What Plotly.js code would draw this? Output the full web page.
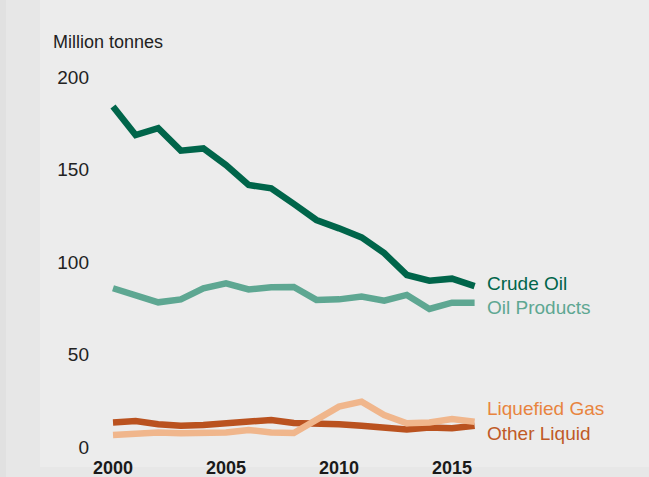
<!DOCTYPE html>
<html>
<head>
<meta charset="utf-8">
<script src="https://cdn.plot.ly/plotly-3.0.1.min.js"></script>
<style>html,body{margin:0;padding:0;background:#ececec;}#chart{width:649px;height:477px;}</style>
</head>
<body>
<div id="chart"></div>
<script>
const years = [2000,2001,2002,2003,2004,2005,2006,2007,2008,2009,2010,2011,2012,2013,2014,2015,2016];
const crudeOil = [184,168.6,172.3,160.2,161.4,152.4,141.6,139.8,131.4,122.7,118.2,113.3,104.8,93,89.9,91,87];
const oilProducts = [85.8,82.2,78.2,79.8,85.8,88.5,85.2,86.3,86.5,79.5,79.8,81.3,79.1,82.2,74.6,78,78];
const otherLiquid = [13.3,14,12.3,11.5,11.9,12.8,13.7,14.6,13,12.8,12.3,11.5,10.6,9.5,10.5,10.1,11.5];
const liquefiedGas = [6.5,7.4,7.8,7.4,7.4,7.8,9.2,7.8,7.6,14.6,21.8,24.5,17.3,12.8,13.3,15.1,13.7];
const seriesNames = ["Crude Oil","Oil Products","Liquefied Gas","Other Liquid"];
const yTicks = [0,50,100,150,200];
const xTicks = [2000,2005,2010,2015];

const FONT = "Liberation Sans, Arial, Helvetica, sans-serif";
const cCrude = "#00654a", cProd = "#5ea792", cLiq = "#f0b68c", cOther = "#ba521f";

const traces = [
  {x: years, y: otherLiquid, name: seriesNames[3], mode: "lines", line: {color: cOther, width: 6.5}},
  {x: years, y: liquefiedGas, name: seriesNames[2], mode: "lines", line: {color: cLiq, width: 6.5}},
  {x: years, y: oilProducts, name: seriesNames[1], mode: "lines", line: {color: cProd, width: 6.5}},
  {x: years, y: crudeOil, name: seriesNames[0], mode: "lines", line: {color: cCrude, width: 6.5}}
];

const L = 90, R = 0, T = 0, B = 22, W = 649, H = 477;
const pw = W - L - R, ph = H - T - B;
const px2paperX = p => (p - L) / pw;
const py2paperY = p => (H - B - p) / ph;

const labelX = 2000 + (485 - 113) / 22.6;

const layout = {
  width: W, height: H,
  margin: {l: L, r: R, t: T, b: B, pad: 0},
  paper_bgcolor: "#ececec",
  plot_bgcolor: "rgba(0,0,0,0)",
  showlegend: false,
  font: {family: FONT, size: 19, color: "#222"},
  xaxis: {
    range: [2000 + (L - 113) / 22.6, 2000 + (W - R - 113) / 22.6],
    tickvals: xTicks, ticktext: xTicks.map(String),
    showgrid: false, zeroline: false, showline: false, ticks: "",
    tickfont: {family: FONT, size: 18, color: "#1a1a1a", weight: "bold"},
    fixedrange: true
  },
  yaxis: {
    range: [(447 - (H - B)) / 1.85, 447 / 1.85],
    tickvals: yTicks, ticktext: yTicks.map(String),
    showgrid: false, zeroline: false, showline: false, ticks: "",
    tickfont: {family: FONT, size: 19, color: "#222"},
    fixedrange: true
  },
  shapes: [
    {type: "rect", xref: "paper", yref: "paper", x0: px2paperX(0), x1: px2paperX(40), y0: py2paperY(H), y1: py2paperY(0), fillcolor: "#e7e7e7", line: {width: 0}, layer: "below"},
    {type: "rect", xref: "paper", yref: "paper", x0: px2paperX(0), x1: px2paperX(W), y0: py2paperY(H), y1: py2paperY(467), fillcolor: "#e7e7e7", line: {width: 0}, layer: "below"},
    {type: "rect", xref: "paper", yref: "paper", x0: px2paperX(0), x1: px2paperX(6), y0: py2paperY(H), y1: py2paperY(0), fillcolor: "#e1e1e1", line: {width: 0}, layer: "below"}
  ],
  annotations: [
    {xref: "paper", yref: "paper", x: px2paperX(51), y: py2paperY(42), xanchor: "left", yanchor: "middle", text: "Million tonnes", showarrow: false, font: {family: FONT, size: 18, color: "#222"}},
    {xref: "x", yref: "y", x: labelX, y: (447 - 283) / 1.85, xanchor: "left", yanchor: "middle", text: seriesNames[0], showarrow: false, font: {family: FONT, size: 19, color: cCrude}},
    {xref: "x", yref: "y", x: labelX, y: (447 - 307) / 1.85, xanchor: "left", yanchor: "middle", text: seriesNames[1], showarrow: false, font: {family: FONT, size: 19, color: cProd}},
    {xref: "x", yref: "y", x: labelX, y: (447 - 408) / 1.85, xanchor: "left", yanchor: "middle", text: seriesNames[2], showarrow: false, font: {family: FONT, size: 19, color: "#e8843e"}},
    {xref: "x", yref: "y", x: labelX, y: (447 - 433) / 1.85, xanchor: "left", yanchor: "middle", text: seriesNames[3], showarrow: false, font: {family: FONT, size: 19, color: "#c05a27"}}
  ]
};

Plotly.newPlot("chart", traces, layout, {displayModeBar: false, staticPlot: true});
</script>
</body>
</html>
